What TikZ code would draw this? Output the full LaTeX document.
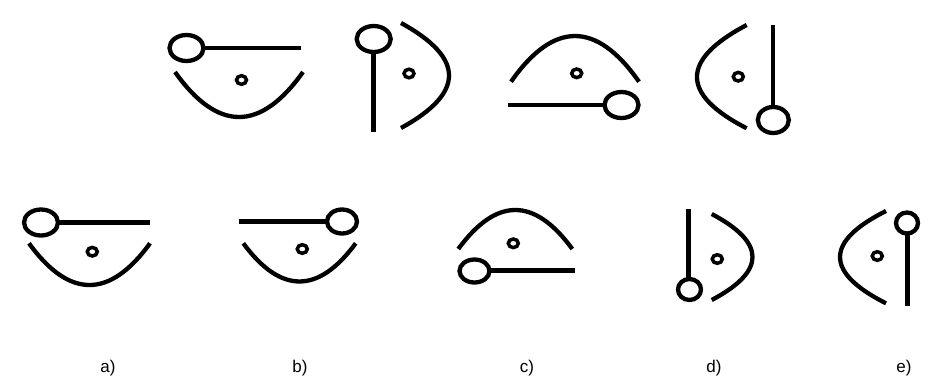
\documentclass[tikz,border=0pt]{standalone}
\usepackage{fontspec}
\setmainfont{Liberation Sans}
\usepackage{tikz}

\begin{document}
\begin{tikzpicture}[x=1pt,y=-1pt,fig/.style={line width=4.3pt},spot/.style={line width=3.5pt},lab/.style={font=\fontsize{17}{20}\selectfont}]
\useasboundingbox[fill=white] (0,0) rectangle (940,389);
\draw[fig] (186.5,48) ellipse [x radius=17pt,y radius=13pt];\draw[fig] (203.5,48)--(301,48);
\draw[spot] (241.5,80) ellipse [x radius=5pt,y radius=4.3pt];
\draw[fig] (175,72) .. controls (217.7,132) and (260.3,132) .. (303,72);
\draw[fig] (373.7,39) ellipse [x radius=17pt,y radius=13pt];\draw[fig] (373.5,52)--(373.5,132);
\draw[spot] (409,73.5) ellipse [x radius=5pt,y radius=4.3pt];
\draw[fig] (401,23) .. controls (465,58) and (465,93) .. (401,128);
\draw[fig] (511,81.7) .. controls (553.7,20.8) and (596.3,20.8) .. (639,81.7);
\draw[spot] (576.7,73.3) ellipse [x radius=5pt,y radius=4.3pt];
\draw[fig] (621.5,105) ellipse [x radius=17pt,y radius=13pt];\draw[fig] (508,105)--(604.5,105);
\draw[fig] (773.3,25)--(773.3,107);\draw[fig] (773.3,120) ellipse [x radius=15.5pt,y radius=13pt];
\draw[spot] (738.3,76.7) ellipse [x radius=5pt,y radius=4.3pt];
\draw[fig] (746.7,25) .. controls (680.4,59.9) and (680.4,94.3) .. (746.7,128.3);
\draw[fig] (41,222.5) ellipse [x radius=17pt,y radius=13pt];\draw[fig] (58,222.5)--(150,222.5);
\draw[spot] (92.3,251.7) ellipse [x radius=5pt,y radius=4.3pt];
\draw[fig] (29,243.3) .. controls (69.3,298.9) and (109.7,298.9) .. (150,243.3);
\draw[fig] (239,221.5)--(327,221.5);\draw[fig] (342,221.5) ellipse [x radius=15pt,y radius=12pt];
\draw[spot] (302.3,249) ellipse [x radius=5pt,y radius=4.3pt];
\draw[fig] (243.3,243.3) .. controls (280.8,294.2) and (318.2,294.2) .. (355.7,243.3);
\draw[fig] (458.3,249) .. controls (496.3,197) and (534.3,197) .. (572.3,249);
\draw[spot] (513.3,243.3) ellipse [x radius=5pt,y radius=4.3pt];
\draw[fig] (474.5,271) ellipse [x radius=15pt,y radius=11.5pt];\draw[fig] (489.5,270.5)--(575,270.5);
\draw[fig] (688.5,209)--(688.5,279);\draw[fig] (689.5,289.5) ellipse [x radius=11.5pt,y radius=10.5pt];
\draw[spot] (717.3,259) ellipse [x radius=5pt,y radius=4.3pt];
\draw[fig] (711.7,214) .. controls (766.1,242.7) and (766.1,271.3) .. (711.7,300);
\draw[fig] (886,211) .. controls (824.7,241.7) and (824.7,272.4) .. (886,303.3);
\draw[spot] (877.3,256) ellipse [x radius=5pt,y radius=4.3pt];
\draw[fig] (907,223) ellipse [x radius=11pt,y radius=10.5pt];\draw[fig] (907.5,233.5)--(907.5,305.5);
\node[lab] (la) at (108,368){a)};\node[lab] (lb) at (300,368){b)};\node[lab] (lc) at (527,368){c)};
\node[lab] (ld) at (714,368){d)};\node[lab] (le) at (904,368){e)};
\end{tikzpicture}
\end{document}
